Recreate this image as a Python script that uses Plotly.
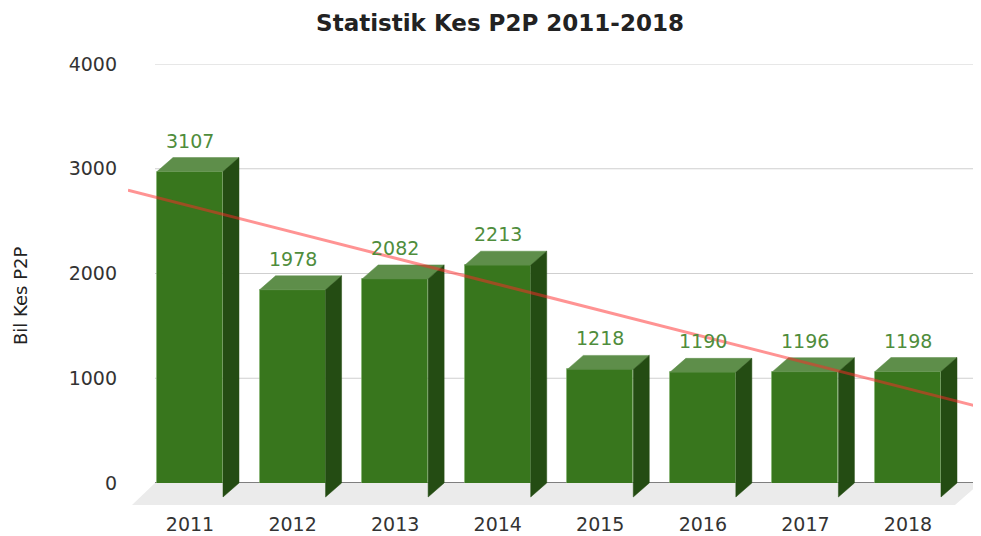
import numpy as np
import plotly.graph_objects as go

# ---------------- data ----------------
years = ["2011", "2012", "2013", "2014", "2015", "2016", "2017", "2018"]
cases = [3107, 1978, 2082, 2213, 1218, 1190, 1196, 1198]
y_ticks = [0, 1000, 2000, 3000, 4000]
title_text = "Statistik Kes P2P 2011-2018"
y_title = "Bil Kes P2P"

# ---------------- geometry ----------------
OFF = 8                      # page body margin
WIN_W, WIN_H = 981, 536
W, H = WIN_W - OFF, WIN_H - OFF
# plot area in window pixels
pl, pr, pt, pb = 128, 981, 64, 505
ml, mr, mt, mb = pl - OFF, WIN_W - pr, pt - OFF, WIN_H - pb
px_per_cat = 102.57
first_center_px = 190.0      # window px of first category centre
px_per_val = 0.10475
x_lo = (pl - first_center_px) / px_per_cat
x_hi = (pr - first_center_px) / px_per_cat
y_hi = 4000
y_lo = y_hi - (pb - pt) / px_per_val

dx = 16 / px_per_cat          # 3D depth, horizontal
dy = 14 / px_per_val          # 3D depth, vertical
bw = 66 / px_per_cat          # bar front width
wall_l = x_lo + 27 / px_per_cat
wall_r = x_hi - 1 / px_per_cat
floor_shift = 25 / px_per_cat

FRONT = "#38761d"
TOP = "#5e8e4a"
SIDE = "#244c13"
LABEL = "#4f8d3c"
FONT = "DejaVu Sans"

xs = list(range(len(years)))

fig = go.Figure()

# floor
fig.add_trace(go.Scatter(
    x=[wall_l, wall_r, wall_r - floor_shift, wall_l - floor_shift + 2 / px_per_cat, wall_l],
    y=[0, 0, y_lo, y_lo, 0],
    fill="toself", fillcolor="#ebebeb", mode="lines", line=dict(width=0),
    hoverinfo="skip", showlegend=False))

# gridlines (back wall)
shapes = []
for t in y_ticks:
    shapes.append(dict(type="line", xref="x", yref="y", x0=wall_l, x1=wall_r, y0=t, y1=t,
                       line=dict(color="#555555" if t == 0 else "#cfcfcf",
                                 width=1.5 if t == 0 else 1),
                       layer="below"))

# front faces
fig.add_trace(go.Bar(
    x=xs, y=cases, base=[-dy] * len(cases), width=bw,
    marker=dict(color=FRONT, line=dict(color="rgba(130,180,110,0.55)", width=1)),
    hoverinfo="skip", showlegend=False))

# top and side faces
tx, ty, sx, sy = [], [], [], []
for i, v in zip(xs, cases):
    l, r = i - bw / 2, i + bw / 2
    tx += [l, r, r + dx, l + dx, l, None]
    ty += [v - dy, v - dy, v, v, v - dy, None]
    sx += [r, r + dx, r + dx, r, r, None]
    sy += [v - dy, v, 0, -dy, v - dy, None]
fig.add_trace(go.Scatter(x=tx, y=ty, fill="toself", fillcolor=TOP, mode="lines",
                         line=dict(width=0.5, color=TOP), hoverinfo="skip", showlegend=False))
fig.add_trace(go.Scatter(x=sx, y=sy, fill="toself", fillcolor=SIDE, mode="lines",
                         line=dict(width=0.5, color=SIDE), hoverinfo="skip", showlegend=False))

# linear trend line
slope, intercept = np.polyfit(xs, cases, 1)
fig.add_trace(go.Scatter(
    x=[x_lo, x_hi], y=[intercept + slope * x_lo, intercept + slope * x_hi],
    mode="lines", line=dict(color="rgba(255,40,40,0.5)", width=3),
    hoverinfo="skip", showlegend=False))

annotations = []
for i, v in zip(xs, cases):
    annotations.append(dict(x=i, y=v, xref="x", yref="y", text=str(v), showarrow=False,
                            yanchor="middle", yshift=17,
                            font=dict(family=FONT, size=19, color=LABEL)))
annotations.append(dict(x=(20 - pl) / (pr - pl), y=(pb - 296) / (pb - pt),
                        xref="paper", yref="paper", text=y_title, textangle=-90,
                        showarrow=False, xanchor="center", yanchor="middle",
                        font=dict(family=FONT, size=18, color="#222222")))

fig.update_layout(
    width=W, height=H,
    margin=dict(l=ml, r=mr, t=mt, b=mb, pad=0),
    paper_bgcolor="white", plot_bgcolor="white",
    title=dict(text="<b>" + title_text + "</b>", x=(500 - OFF) / W, xanchor="center",
               y=1 - (23 - OFF) / H, yanchor="middle", xref="container",
               font=dict(family=FONT, size=23, color="#222222")),
    xaxis=dict(range=[x_lo, x_hi], tickvals=xs, ticktext=years, showgrid=False,
               zeroline=False, showline=False, ticks="", ticklabelstandoff=6,
               tickfont=dict(family=FONT, size=19, color="#333333"), fixedrange=True),
    yaxis=dict(range=[y_lo, y_hi], tickvals=y_ticks, showgrid=False, zeroline=False,
               showline=False, ticks="", ticklabelstandoff=10,
               tickfont=dict(family=FONT, size=19, color="#333333"), fixedrange=True),
    shapes=shapes, annotations=annotations, bargap=0,
)

fig.write_html("out.html")
